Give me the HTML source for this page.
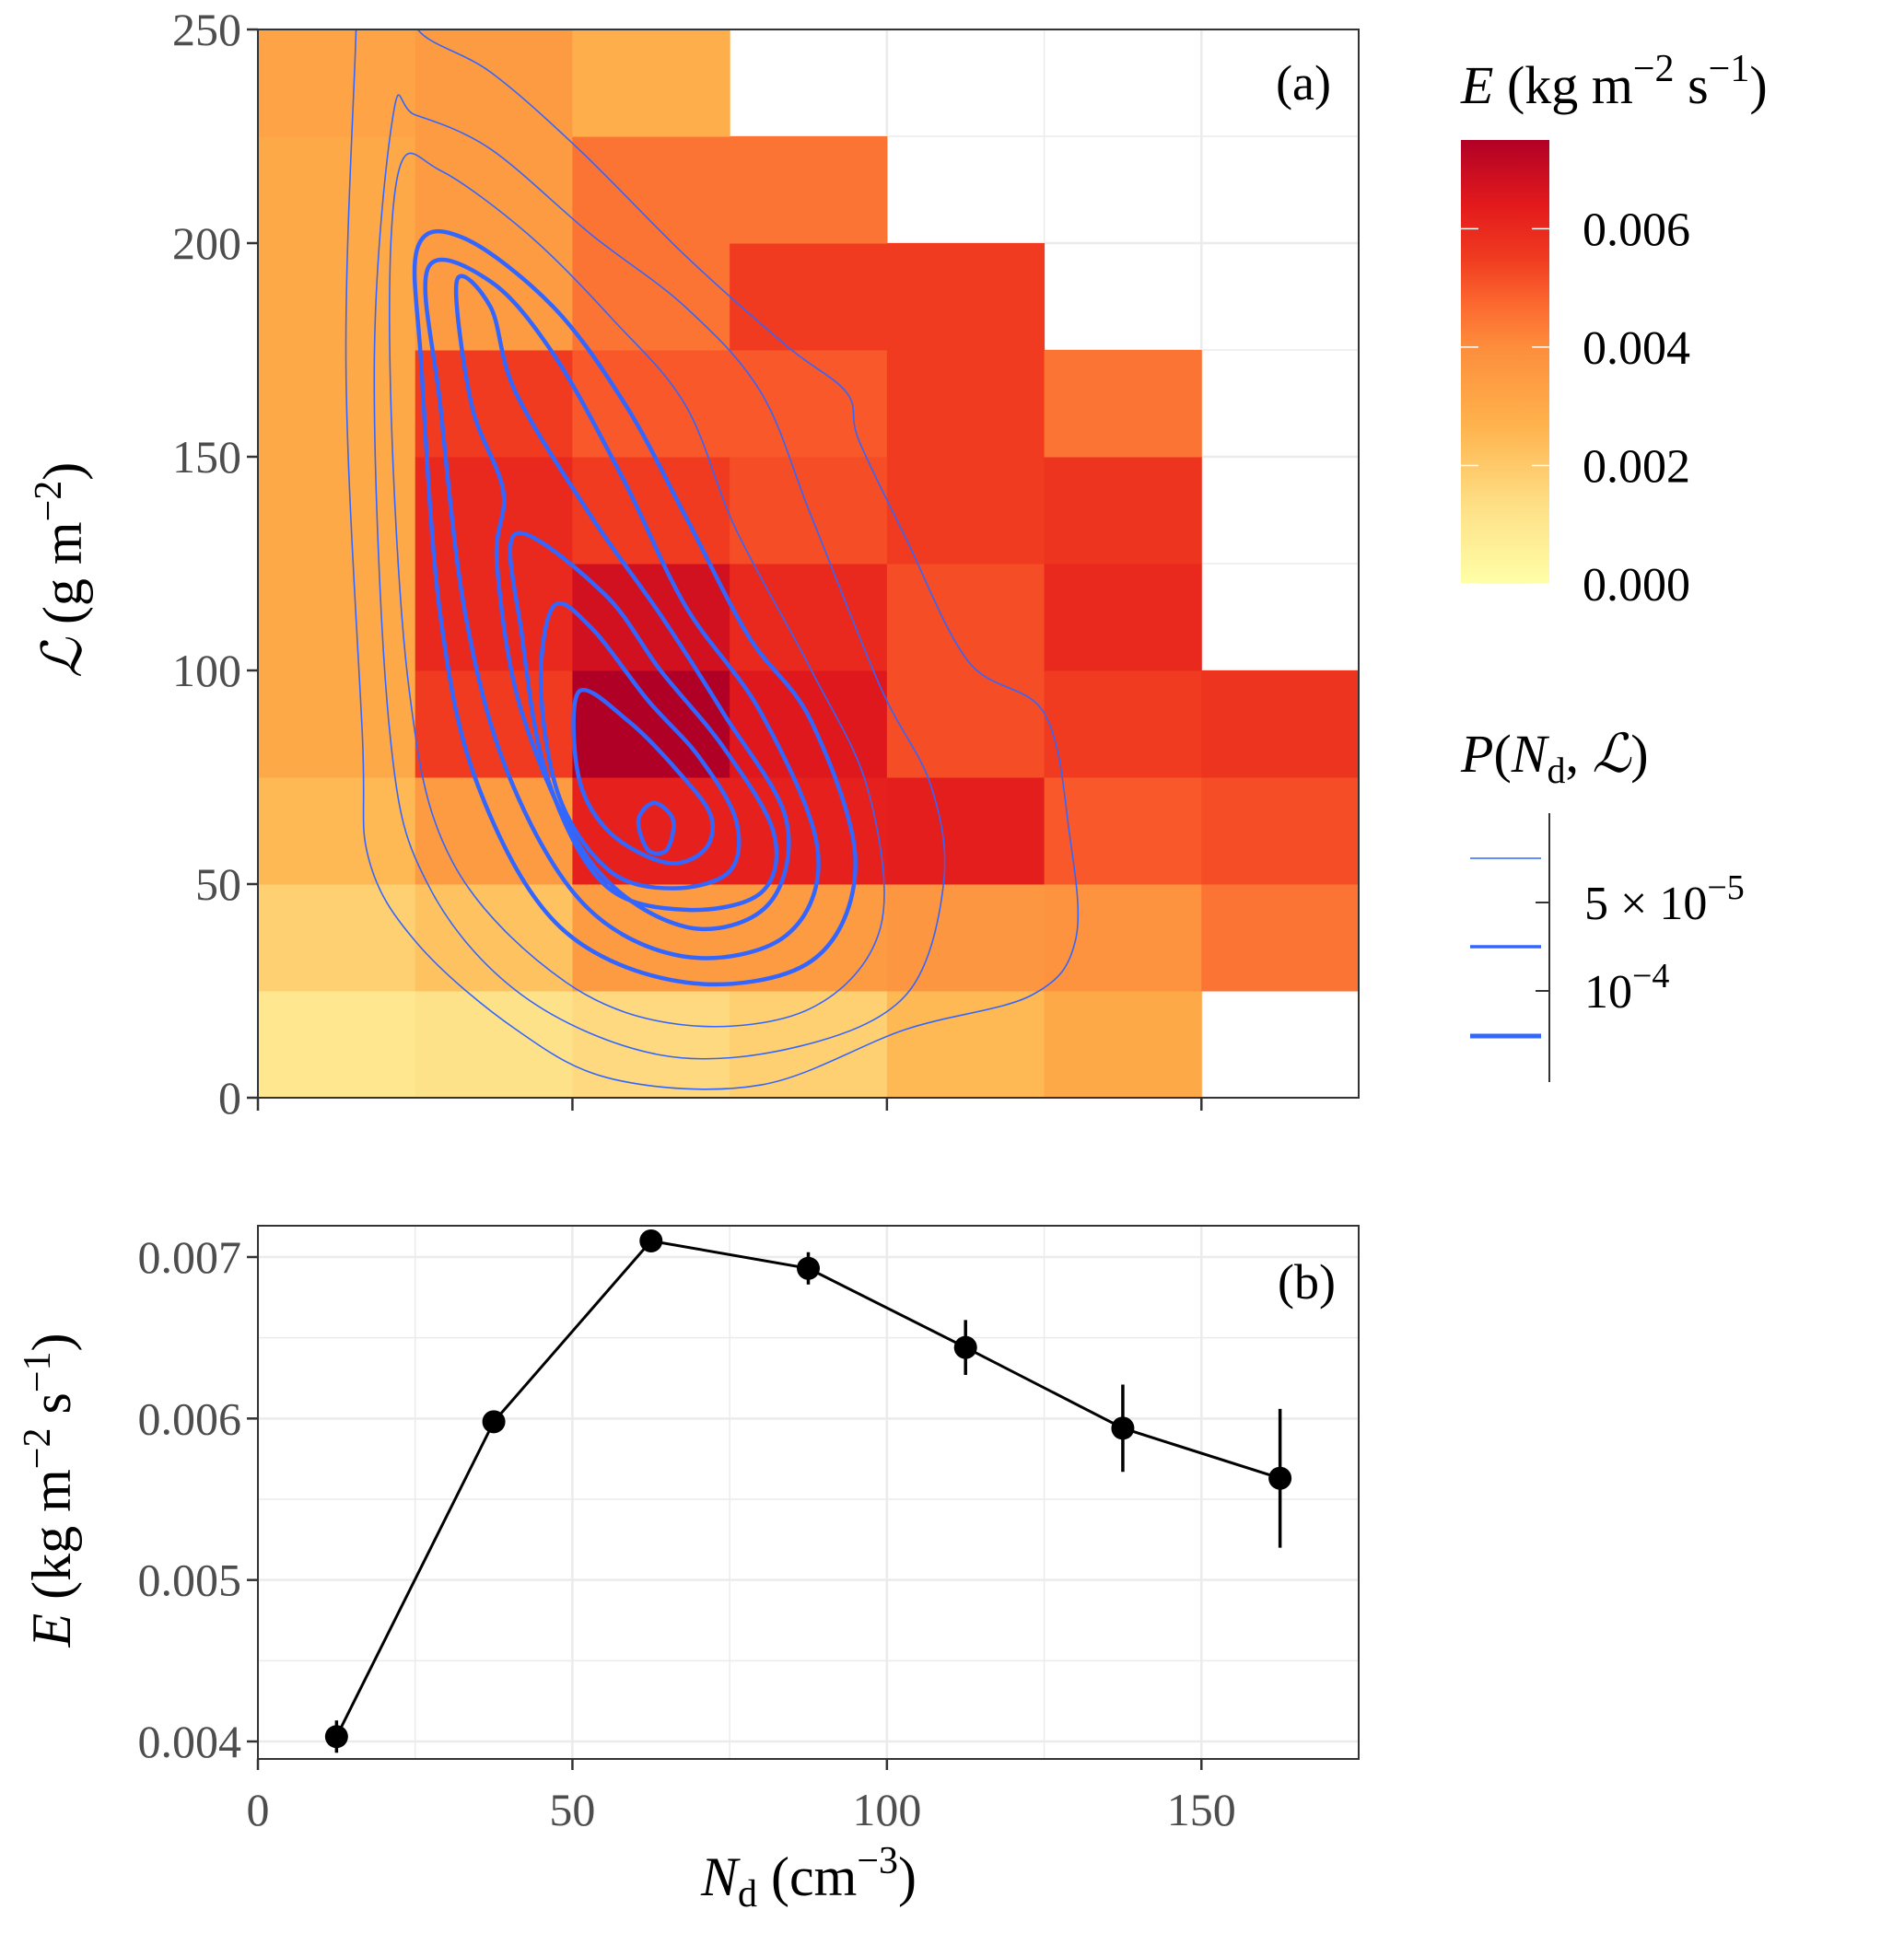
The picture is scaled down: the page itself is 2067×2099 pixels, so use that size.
<!DOCTYPE html>
<html><head><meta charset="utf-8"><style>
html,body{margin:0;padding:0;background:#fff}
svg{display:block;font-family:"Liberation Serif","DejaVu Serif",serif}
</style></head><body>
<svg id="c" width="2067" height="2099" viewBox="0 0 2067 2099" xmlns="http://www.w3.org/2000/svg"></svg>
<script>
// ---- data ----
const xBins=[0,25,50,75,100,125,150];
const yBins=[0,25,50,75,100,125,150,175,200,225];
const eRow0=[0.0010,0.0012,0.0015,0.0018,0.0025,0.0030,null];
const eRow1=[0.0018,0.0022,0.0035,0.0035,0.0037,0.0038,0.0045];
const eRow2=[0.0025,0.0035,0.0062,0.0062,0.0063,0.0050,0.0052];
const eRow3=[0.0030,0.0055,0.0075,0.0065,0.0052,0.0055,0.0057];
const eRow4=[0.0030,0.0060,0.0068,0.0060,0.0052,0.0060,null];
const eRow5=[0.0030,0.0060,0.0055,0.0052,0.0055,0.0057,null];
const eRow6=[0.0030,0.0055,0.0050,0.0050,0.0055,0.0045,null];
const eRow7=[0.0030,0.0035,0.0045,0.0055,0.0055,null,null];
const eRow8=[0.0030,0.0035,0.0045,0.0045,null,null,null];
const eRow9=[0.0032,0.0035,0.0028,null,null,null,null];
const eRows=[eRow0,eRow1,eRow2,eRow3,eRow4,eRow5,eRow6,eRow7,eRow8,eRow9];
const xTicks=[0,50,100,150];
const yTicksA=[0,50,100,150,200,250];
const cbTicks=[0.000,0.002,0.004,0.006];
// contour rings in data units [N, L]
const ring1=[[15.6,263],[15.6,250],[14,171],[16.6,85],[17.6,56],[25.4,36],[41,16],[56.6,4.3],[80,3],[103,16],[123,24],[130,37],[129,62],[125,90],[113,102],[103,131],[95.5,154],[93.6,165],[84,176],[68,197],[51,222],[37,240],[25.4,250],[25,263]];
const ring2=[[21.5,230],[18.5,171],[21,85],[27,50],[42,24],[64,10],[86,12],[103,24],[109,50],[107,73],[99,96],[88,136],[80,165],[68,185],[53,202],[37,222],[25,230]];
const ring3=[[22.4,217],[21,171],[24,96],[31,55],[49,27],[68,17],[88,21],[99,40],[97,72],[88,100],[76,133],[68,162],[56.5,182],[43,202],[29,217]];
const ring4=[[25.4,199],[26,171],[29,113],[35,73],[48,40],[68,27],[88,32],[95,55],[88,88],[78,108],[68,136],[58.5,162],[47,185],[33,201]];
const ring5=[[27,194],[29,162],[33,113],[40,75],[52,45],[68,33],[84,38],[89,58],[80,90],[68,115],[58,145],[47,174],[37,191]];
const ring6=[[31.6,191],[34,162],[39,142],[38,125],[42,90],[53,55],[68,40],[81,45],[84,65],[74,90],[64,113],[53,136],[41,165],[37,185]];
const ring7=[[41,132],[42,108],[46,75],[55,50],[68,44],[80,48],[82,62],[74,82],[64,100],[55,118]];
const ring8=[[47,115],[45,96],[48,70],[56,53],[66,49],[75,53],[76,65],[70,80],[62,93],[53,110]];
const ring9=[[51,95],[51,75],[56,62],[65,55],[71,58],[72,66],[67,76],[59,88]];
const ring10=[[60.5,65],[63,69],[66,65],[65,58],[62,58]];
const rings=[ring1,ring2,ring3,ring4,ring5,ring6,ring7,ring8,ring9,ring10];
const ringThick=[0,0,0,1,1,1,1,1,1,1];
// panel b
const bN=[12.5,37.5,62.5,87.5,112.5,137.5,162.5];
const bE=[0.00403,0.00598,0.00710,0.00693,0.00644,0.00594,0.00563];
const bErr=[0.00010,0.00005,0.00003,0.00010,0.00017,0.00027,0.00043];
const yTicksB=[0.004,0.005,0.006,0.007];

const NS="http://www.w3.org/2000/svg";
const svg=document.getElementById('c');
function mk(t,a,p){const e=document.createElementNS(NS,t);for(const k in a)e.setAttribute(k,a[k]);(p||svg).appendChild(e);return e;}
const X0=280,X1=1475;
const sx=v=>X0+(v/175)*(X1-X0);
const AT=32,AB=1192;
const syA=v=>AB-(v/250)*(AB-AT);
const BT=1331,BB=1910;
const syB=v=>1891-(v-0.004)/0.003*(1891-1365);
const cStops=[[0,[255,255,168]],[0.0013,[254,224,135]],[0.0027,[254,178,76]],[0.004,[253,141,60]],[0.0047,[252,106,48]],[0.0055,[240,59,32]],[0.0064,[227,26,28]],[0.0075,[177,0,38]]];
function col(v){for(let i=1;i<cStops.length;i++){if(v<=cStops[i][0]){const a=cStops[i-1],b=cStops[i];const t=(v-a[0])/(b[0]-a[0]);const c=a[1].map((x,j)=>Math.round(x+(b[1][j]-x)*t));return `rgb(${c})`;}}return 'rgb(177,0,38)';}

// ---- Panel A ----
const gA=mk('g',{});

mk('rect',{x:X0,y:AT,width:X1-X0,height:AB-AT,fill:'#fff'},gA);
for(let v=0;v<=175;v+=25){mk('line',{x1:sx(v),x2:sx(v),y1:AT,y2:AB,stroke:'#ebebeb','stroke-width':v%50?1.5:2.5},gA);}
for(let v=0;v<=250;v+=25){mk('line',{x1:X0,x2:X1,y1:syA(v),y2:syA(v),stroke:'#ebebeb','stroke-width':v%50?1.5:2.5},gA);}
const gH=mk('g',{},gA);

eRows.forEach((row,ri)=>{row.forEach((v,ci)=>{if(v==null)return;
 const r=mk('rect',{x:sx(xBins[ci]),y:syA(yBins[ri]+25),width:sx(25)-sx(0)+0.5,height:syA(0)-syA(25)+0.5,fill:col(v)},gH);
 });});
const cp=mk('clipPath',{id:'clA'},gA);
mk('rect',{x:X0,y:AT,width:X1-X0,height:AB-AT},cp);
const gC=mk('g',{'clip-path':'url(#clA)'},gA);

function smooth(pts){const n=pts.length;let d=`M${pts[0][0]},${pts[0][1]}`;
 for(let i=0;i<n;i++){const p0=pts[(i-1+n)%n],p1=pts[i],p2=pts[(i+1)%n],p3=pts[(i+2)%n];
  const c1=[p1[0]+(p2[0]-p0[0])/6,p1[1]+(p2[1]-p0[1])/6],c2=[p2[0]-(p3[0]-p1[0])/6,p2[1]-(p3[1]-p1[1])/6];
  d+=`C${c1[0]},${c1[1]} ${c2[0]},${c2[1]} ${p2[0]},${p2[1]}`;}return d+'Z';}
rings.forEach((r,i)=>{const pts=r.map(p=>[sx(p[0]),syA(p[1])]);
 const p=mk('path',{d:smooth(pts),fill:'none',stroke:'#3366ff','stroke-width':ringThick[i]?4.5:1.6,'stroke-linejoin':'round'},gC);
 });
mk('rect',{x:X0,y:AT,width:X1-X0,height:AB-AT,fill:'none',stroke:'#333','stroke-width':2},gA);
xTicks.forEach(v=>{mk('line',{x1:sx(v),x2:sx(v),y1:AB,y2:AB+14,stroke:'#333','stroke-width':2.5},gA);});
yTicksA.forEach(v=>{mk('line',{x1:X0-12,x2:X0,y1:syA(v),y2:syA(v),stroke:'#333','stroke-width':2.5},gA);
 const t=mk('text',{x:X0-18,y:syA(v)+17,'text-anchor':'end','font-size':50,fill:'#4d4d4d'},gA);t.textContent=v;
 });
const la=mk('text',{x:1445,y:108,'text-anchor':'end','font-size':54,fill:'#000'},gA);la.textContent='(a)';

const ya=mk('text',{transform:'translate(88,619) rotate(-90)','text-anchor':'middle','font-size':60,fill:'#000'},gA);
ya.innerHTML='<tspan font-style="italic">ℒ</tspan> (g m<tspan dy="-22" font-size="42">−2</tspan><tspan dy="22">)</tspan>';


// ---- Legend ----
const gL=mk('g',{});

const lt=mk('text',{x:1586,y:112,'font-size':58},gL);
lt.innerHTML='<tspan font-style="italic">E</tspan> (kg m<tspan dy="-24" font-size="42">−2</tspan><tspan dy="24"> s</tspan><tspan dy="-24" font-size="42">−1</tspan><tspan dy="24">)</tspan>';

const gr=mk('linearGradient',{id:'cbg',x1:0,y1:1,x2:0,y2:0},gL);
cStops.forEach(s=>mk('stop',{offset:s[0]/0.0075,'stop-color':col(s[0])},gr));
const CBT=152,CBB=634;const scb=v=>CBB-v/0.0075*(CBB-CBT);
const cb=mk('rect',{x:1586,y:CBT,width:96,height:CBB-CBT,fill:'url(#cbg)'},gL);

cbTicks.forEach(v=>{mk('line',{x1:1586,x2:1605,y1:scb(v),y2:scb(v),stroke:'#fff','stroke-width':1.5},gL);
 mk('line',{x1:1663,x2:1682,y1:scb(v),y2:scb(v),stroke:'#fff','stroke-width':1.5},gL);
 const t=mk('text',{x:1718,y:scb(v)+18,'font-size':52},gL);t.textContent=v.toFixed(3);
 });
const pt=mk('text',{x:1586,y:838,'font-size':58},gL);
pt.innerHTML='<tspan font-style="italic">P</tspan>(<tspan font-style="italic">N</tspan><tspan dy="12" font-size="40">d</tspan><tspan dy="-12">, </tspan><tspan font-style="italic">ℒ</tspan>)';

mk('line',{x1:1682,x2:1682,y1:883,y2:1175,stroke:'#333','stroke-width':2},gL);
[[932,1.6],[1028,3.5],[1125,5]].forEach(k=>{const l=mk('line',{x1:1596,x2:1673,y1:k[0],y2:k[0],stroke:'#3366ff','stroke-width':k[1]},gL);
 });
[980,1076].forEach(y=>mk('line',{x1:1667,x2:1682,y1:y,y2:y,stroke:'#333','stroke-width':2},gL));
const l1=mk('text',{x:1720,y:998,'font-size':52},gL);l1.innerHTML='5 × 10<tspan dy="-22" font-size="38">−5</tspan>';

const l2=mk('text',{x:1720,y:1094,'font-size':52},gL);l2.innerHTML='10<tspan dy="-22" font-size="38">−4</tspan>';


// ---- Panel B ----
const gB=mk('g',{});

for(let v=0;v<=175;v+=25){mk('line',{x1:sx(v),x2:sx(v),y1:BT,y2:BB,stroke:'#ebebeb','stroke-width':v%50?1.5:2.5},gB);}
for(let i=0;i<=7;i++){const v=0.0035+i*0.0005;const y=syB(v);if(y<BT||y>BB)continue;
 mk('line',{x1:X0,x2:X1,y1:y,y2:y,stroke:'#ebebeb','stroke-width':i%2?2.5:1.5},gB);}
const ln=mk('polyline',{points:bN.map((n,i)=>`${sx(n)},${syB(bE[i])}`).join(' '),fill:'none',stroke:'#000','stroke-width':3},gB);

bN.forEach((n,i)=>{const e=mk('line',{x1:sx(n),x2:sx(n),y1:syB(bE[i]-bErr[i]),y2:syB(bE[i]+bErr[i]),stroke:'#000','stroke-width':3.5},gB);
 
 const c=mk('circle',{cx:sx(n),cy:syB(bE[i]),r:12.5,fill:'#000'},gB);
 });
mk('rect',{x:X0,y:BT,width:X1-X0,height:BB-BT,fill:'none',stroke:'#333','stroke-width':2},gB);
xTicks.forEach(v=>{mk('line',{x1:sx(v),x2:sx(v),y1:BB,y2:BB+12,stroke:'#333','stroke-width':2.5},gB);
 const t=mk('text',{x:sx(v),y:1982,'text-anchor':'middle','font-size':50,fill:'#4d4d4d'},gB);t.textContent=v;
 });
yTicksB.forEach(v=>{mk('line',{x1:X0-12,x2:X0,y1:syB(v),y2:syB(v),stroke:'#333','stroke-width':2.5},gB);
 const t=mk('text',{x:X0-18,y:syB(v)+17,'text-anchor':'end','font-size':50,fill:'#4d4d4d'},gB);t.textContent=v.toFixed(3);
 });
const lb=mk('text',{x:1450,y:1410,'text-anchor':'end','font-size':54},gB);lb.textContent='(b)';

const yb=mk('text',{transform:'translate(76,1618) rotate(-90)','text-anchor':'middle','font-size':60},gB);
yb.innerHTML='<tspan font-style="italic">E</tspan> (kg m<tspan dy="-22" font-size="42">−2</tspan><tspan dy="22"> s</tspan><tspan dy="-22" font-size="42">−1</tspan><tspan dy="22">)</tspan>';

const xb=mk('text',{x:878,y:2058,'text-anchor':'middle','font-size':60},gB);
xb.innerHTML='<tspan font-style="italic">N</tspan><tspan dy="12" font-size="42">d</tspan><tspan dy="-12"> (cm</tspan><tspan dy="-24" font-size="42">−3</tspan><tspan dy="24">)</tspan>';

</script>
</body></html>
